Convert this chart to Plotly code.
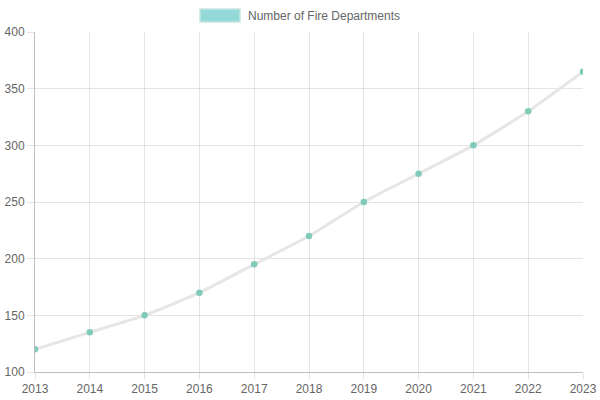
import plotly.graph_objects as go

years = [2013, 2014, 2015, 2016, 2017, 2018, 2019, 2020, 2021, 2022, 2023]
departments = [120, 135, 150, 170, 195, 220, 250, 275, 300, 330, 365]
series_name = "Number of Fire Departments"

grid = "rgba(0,0,0,0.1)"
font = dict(family="Liberation Sans, Arial, sans-serif", size=12, color="#666666")

fig = go.Figure()
fig.add_trace(go.Scatter(
    x=years, y=departments, mode="lines+markers", name=series_name,
    line=dict(color="rgb(230,230,230)", width=3, shape="spline", smoothing=0.5),
    marker=dict(size=6.5, color="rgb(128,203,185)"),
    showlegend=False, hoverinfo="x+y",
))

# legend (box + label) drawn at top centre
fig.add_shape(type="rect", xref="paper", yref="paper",
              x0=(200 - 35) / 548, x1=(240 - 35) / 548,
              y0=(372 - 9) / 340, y1=(372 - 22) / 340,
              fillcolor="rgba(75,192,192,0.6)", line=dict(color="rgba(200,230,225,1)", width=1.5))
fig.add_annotation(xref="paper", yref="paper", x=(246 - 35) / 548, y=(372 - 16) / 340,
                   text=series_name, showarrow=False, xanchor="left", yanchor="middle",
                   font=font)

fig.update_layout(
    width=600, height=400, paper_bgcolor="white", plot_bgcolor="white",
    margin=dict(l=35, r=17, t=32, b=28),
    font=font,
    xaxis=dict(range=[2013, 2023], tickmode="array", tickvals=years, ticktext=[str(y) for y in years],
               showgrid=True, gridcolor=grid, zeroline=False, showline=True, linecolor="rgba(0,0,0,0.25)",
               ticks="outside", ticklen=6, tickcolor=grid, fixedrange=True, automargin=False),
    yaxis=dict(range=[100, 400], dtick=50, showgrid=True, gridcolor=grid, zeroline=False,
               showline=True, linecolor="rgba(0,0,0,0.25)",
               ticks="outside", ticklen=7, tickcolor=grid, fixedrange=True, automargin=False),
)

fig.write_html("out.html")
